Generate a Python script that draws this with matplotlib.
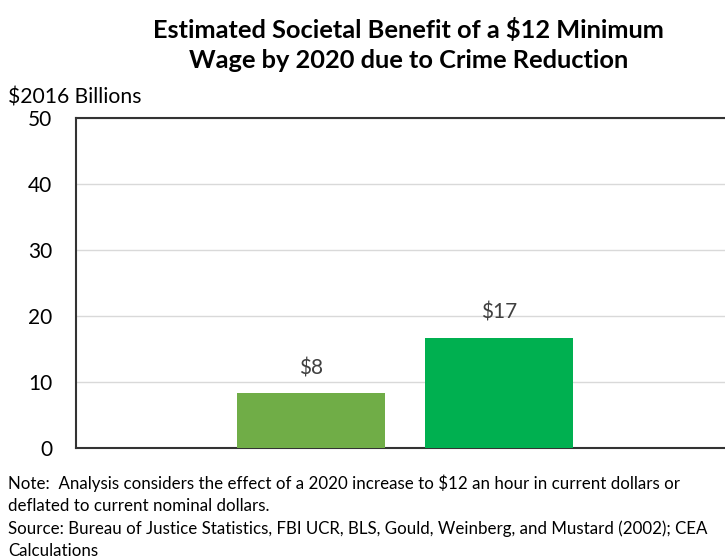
import matplotlib
matplotlib.use("Agg")
import matplotlib.pyplot as plt

plt.rcParams['font.family'] = ['Lato', 'DejaVu Sans']

values = [8.3, 16.7]
labels = ['$8', '$17']
colors = ['#70AD47', '#00B050']
yticks = [0, 10, 20, 30, 40, 50]

fig = plt.figure(figsize=(7.25, 5.58), dpi=100)
ax = fig.add_axes([76 / 725, 1 - 448 / 558, 1 - 76 / 725, 330 / 558])

x = [0, 1]
bars = ax.bar(x, values, width=0.787, color=colors, zorder=3)
for xi, v, lab in zip(x, values, labels):
    ax.text(xi, v + 2.3, lab, ha='center', va='bottom', fontsize=15, color='#404040')

ax.set_xlim(-1.25, 2.2)
ax.set_ylim(0, 50)
ax.set_yticks(yticks)
ax.set_xticks([])
ax.tick_params(axis='y', length=0, labelsize=15, pad=17, labelcolor='black')
ax.yaxis.grid(True, color='#d9d9d9', linewidth=1, zorder=0)
for s in ['left', 'top', 'bottom']:
    ax.spines[s].set_color('#333333')
    ax.spines[s].set_linewidth(1.5)
ax.spines['right'].set_visible(False)

fig.text(0.563, 1 - 45 / 558, 'Estimated Societal Benefit of a $12 Minimum\nWage by 2020 due to Crime Reduction',
         ha='center', va='center', fontsize=18.3, fontweight='bold', linespacing=1.42)
fig.text(8 / 725, 1 - 97 / 558, '$2016 Billions', ha='left', va='center', fontsize=15.2)

notes = ('Note:  Analysis considers the effect of a 2020 increase to $12 an hour in current dollars or\n'
         'deflated to current nominal dollars.\n'
         'Source: Bureau of Justice Statistics, FBI UCR, BLS, Gould, Weinberg, and Mustard (2002); CEA\n'
         'Calculations')
fig.text(8 / 725, 1 - 474 / 558, notes, ha='left', va='top', fontsize=12.2, linespacing=1.47)

fig.savefig('out.png', dpi=100)
